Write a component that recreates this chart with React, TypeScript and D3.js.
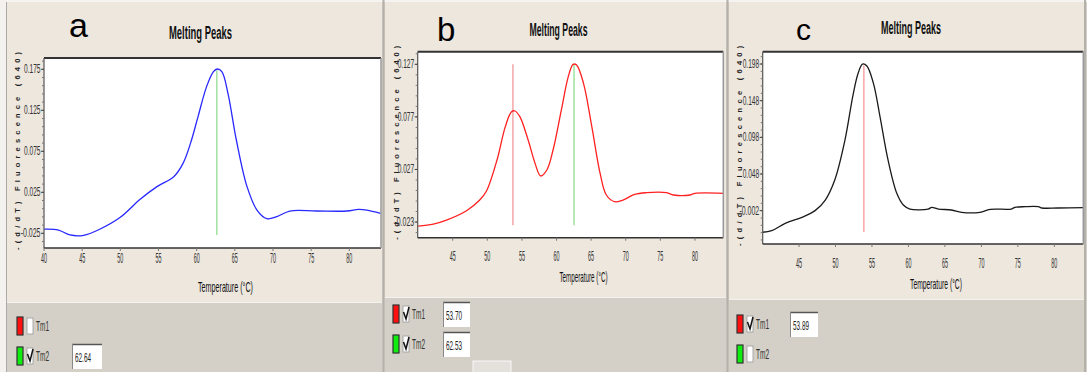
import React, { useEffect } from 'react';
import * as d3 from 'd3';

// ---------- data ----------
const PANEL_LETTERS = ['a', 'b', 'c'];
const TITLE = 'Melting Peaks';
const X_TITLE = 'Temperature (°C)';
const Y_TITLE = '-(d/dT) Fluorescence (640)';

const TEMP_A = [40, 41.9, 43.4, 45.2, 47.3, 50, 52.6, 54.8, 57, 58.2, 59.2, 60.2, 61.3, 62.2, 62.7, 63.3, 64.1, 65.2, 66.6, 67.9, 69.2, 70.5, 72.2, 75.7, 79.7, 81.2, 82.3, 84.1];
const DERIV_A = [-0.020, -0.021, -0.027, -0.0274, -0.020, -0.0055, 0.0165, 0.0319, 0.0441, 0.060, 0.085, 0.118, 0.1539, 0.1722, 0.1754, 0.1722, 0.1457, 0.0888, 0.0319, 0.0034, -0.0071, -0.0047, 0.0022, 0.0022, 0.0022, 0.0043, 0.0034, -0.0006];

const TEMP_B = [40, 42.2, 44.1, 47, 48.9, 49.9, 51.4, 52.6, 53.5, 54, 54.7, 55.9, 56.9, 57.7, 58.6, 59.5, 60.7, 61.7, 62.4, 62.9, 63.9, 65.1, 66.3, 67.2, 68.4, 69.6, 71.3, 73, 75.9, 76.9, 79.3, 80, 84.1];
const DERIV_B = [-0.0268, -0.0249, -0.0211, -0.0122, -0.0021, 0.0068, 0.036, 0.0677, 0.082, 0.0826, 0.0772, 0.055, 0.0328, 0.0208, 0.0265, 0.0455, 0.0836, 0.1153, 0.127, 0.1264, 0.1089, 0.0677, 0.0233, 0.0027, -0.0037, -0.0021, 0.0033, 0.0049, 0.0049, 0.0027, 0.0027, 0.0043, 0.0043];

const TEMP_C = [40.02, 41.25, 43.1, 45.4, 47.2, 48.6, 49.9, 51.3, 52.4, 53.1, 53.7, 54.3, 55.2, 56.1, 57.2, 58.4, 59.3, 60.2, 62.7, 63.2, 64.1, 65.9, 67.3, 69.8, 71.2, 74.1, 74.6, 76, 77.8, 78.3, 80.5, 84];
const DERIV_C = [-0.0315, -0.0293, -0.0193, -0.0111, -0.002, 0.0125, 0.0398, 0.0944, 0.1557, 0.1853, 0.198, 0.1953, 0.1716, 0.1262, 0.0671, 0.0216, 0.0057, 0.0002, 0.0002, 0.0025, 0.0002, -0.0011, -0.0043, -0.0043, -0.0002, 0.0002, 0.0025, 0.0034, 0.0034, 0.0016, 0.0016, 0.002];

const X_TICKS_A = [40, 45, 50, 55, 60, 65, 70, 75, 80];
const X_TICKS_BC = [45, 50, 55, 60, 65, 70, 75, 80];
const Y_TICKS_A = [-0.025, 0.025, 0.075, 0.125, 0.175];
const Y_LABELS_A = ['-0.025', '0.025', '0.075', '0.125', '0.175'];
const Y_TICKS_B = [-0.023, 0.027, 0.077, 0.127];
const Y_LABELS_B = ['-0.023', '0.027', '0.077', '0.127'];
const Y_TICKS_C = [-0.002, 0.048, 0.098, 0.148, 0.198];
const Y_LABELS_C = ['-0.002', '0.048', '0.098', '0.148', '0.198'];

// Tm marker lines: temperature, top value, bottom value
const TM_LINES_A = [{ key: 'Tm2', temp: 62.64, top: 0.174, bottom: -0.027 }];
const TM_LINES_B = [
  { key: 'Tm1', temp: 53.7, top: 0.127, bottom: -0.026 },
  { key: 'Tm2', temp: 62.53, top: 0.127, bottom: -0.026 },
];
const TM_LINES_C = [{ key: 'Tm1', temp: 53.89, top: 0.196, bottom: -0.031 }];

const TM_NAMES = ['Tm1', 'Tm2'];
const TM_CHECKED_A = [false, true];
const TM_CHECKED_B = [true, true];
const TM_CHECKED_C = [true, false];
const TM_VALUES_A = ['', '62.64'];
const TM_VALUES_B = ['53.70', '62.53'];
const TM_VALUES_C = ['53.89', ''];

// ---------- styles / layout ----------
const TAN = '#ede7de';
const GRAY = '#d4d0c8';
const TM_COLORS: Record<string, string> = { Tm1: '#f4a0a0', Tm2: '#98e098' };
const SWATCH: Record<string, string> = { Tm1: '#ff1010', Tm2: '#10ee10' };
const NARROW = '"Liberation Sans Narrow", "Liberation Sans", Arial, sans-serif';
const SANS = '"Liberation Sans", Arial, sans-serif';

const PANELS = [
  {
    bg: [7, 2, 375, 300], legendTop: 302,
    plot: { x0: 44, x1: 381, y0: 58, y1: 248 },
    xDom: [40, 84.15], yDom: [-0.0429, 0.1888],
    temps: TEMP_A, vals: DERIV_A, color: '#2828ff',
    xTicks: X_TICKS_A, yTicks: Y_TICKS_A, yLabels: Y_LABELS_A, tm: TM_LINES_A,
    letter: { x: 69, y: 37, size: 34 }, titleY: 33, titleW: 63,
    xTickY: 257, xTitleY: 286, xTitleW: 55, yTitleX: 17,
    legend: { x: 17, rows: [326, 356], checked: TM_CHECKED_A, values: TM_VALUES_A, boxX: 72, boxW: 30 },
  },
  {
    bg: [385, 2, 341, 295], legendTop: 297,
    plot: { x0: 417.7, x1: 723.3, y0: 51.7, y1: 237.7 },
    xDom: [39.94, 84.1], yDom: [-0.0379, 0.139],
    temps: TEMP_B, vals: DERIV_B, color: '#ff2020',
    xTicks: X_TICKS_BC, yTicks: Y_TICKS_B, yLabels: Y_LABELS_B, tm: TM_LINES_B,
    letter: { x: 437, y: 41, size: 33 }, titleY: 30, titleW: 58,
    xTickY: 255, xTitleY: 276, xTitleW: 48, yTitleX: 396,
    legend: { x: 393, rows: [314, 344], checked: TM_CHECKED_B, values: TM_VALUES_B, boxX: 443, boxW: 27 },
  },
  {
    bg: [729, 2, 355, 297], legendTop: 299,
    plot: { x0: 762.7, x1: 1083.3, y0: 51.7, y1: 244 },
    xDom: [40.02, 83.97], yDom: [-0.0475, 0.2148],
    temps: TEMP_C, vals: DERIV_C, color: '#1a1a1a',
    xTicks: X_TICKS_BC, yTicks: Y_TICKS_C, yLabels: Y_LABELS_C, tm: TM_LINES_C,
    letter: { x: 796, y: 40, size: 30 }, titleY: 28, titleW: 60,
    xTickY: 262, xTitleY: 283, xTitleW: 52, yTitleX: 739,
    legend: { x: 737, rows: [324, 354], checked: TM_CHECKED_C, values: TM_VALUES_C, boxX: 790, boxW: 28 },
  },
];

function Panel({ p, idx }: { p: any; idx: number }) {
  const { plot } = p;
  const x = d3.scaleLinear().domain(p.xDom).range([plot.x0, plot.x1]);
  const y = d3.scaleLinear().domain(p.yDom).range([plot.y1, plot.y0]);
  const pts: [number, number][] = p.temps.map((t: number, i: number) => [t, p.vals[i]]);
  const line = d3.line<[number, number]>().x(d => x(d[0])).y(d => y(d[1])).curve(d3.curveCatmullRom.alpha(0.5));

  const step = p.yTicks[1] - p.yTicks[0];
  const minor: number[] = [];
  for (let v = p.yTicks[0] - step; v <= p.yDom[1]; v += step / 5) {
    if (v >= p.yDom[0] && v <= p.yDom[1]) minor.push(v);
  }
  const cx = (plot.x0 + plot.x1) / 2;
  const [bx, by, bw, bh] = p.bg;
  const lg = p.legend;

  return (
    <g>
      <rect x={bx} y={by} width={bw} height={bh} fill={TAN} />
      <line x1={bx} x2={bx + bw} y1={p.legendTop + 0.5} y2={p.legendTop + 0.5} stroke="#f4f2ee" />
      <text x={p.letter.x} y={p.letter.y} fontFamily={SANS} fontSize={p.letter.size} fill="#000">{PANEL_LETTERS[idx]}</text>
      <text x={cx - 12} y={p.titleY} fontFamily={NARROW} fontWeight="bold" fontSize={18} textAnchor="middle"
        dominantBaseline="central" textLength={p.titleW} lengthAdjust="spacingAndGlyphs" fill="#111">{TITLE}</text>
      <rect x={plot.x0} y={plot.y0} width={plot.x1 - plot.x0} height={plot.y1 - plot.y0} fill="#fff" />
      {/* Tm lines */}
      {p.tm.map((m: any) => (
        <line key={m.key} x1={x(m.temp)} x2={x(m.temp)} y1={y(m.top)} y2={y(m.bottom)} stroke={TM_COLORS[m.key]} strokeWidth={1.4} />
      ))}
      <path d={line(pts) || ''} fill="none" stroke={p.color} strokeWidth={1.3} />
      {/* frame */}
      <line x1={plot.x0} x2={plot.x1} y1={plot.y0} y2={plot.y0} stroke="#333" strokeWidth={2} />
      <line x1={plot.x0} x2={plot.x0} y1={plot.y0} y2={plot.y1} stroke="#555" strokeWidth={1.2} />
      <line x1={plot.x0} x2={plot.x1} y1={plot.y1} y2={plot.y1} stroke="#333" strokeWidth={1.5} />
      <line x1={plot.x1} x2={plot.x1} y1={plot.y0} y2={plot.y1} stroke="#999" strokeWidth={1.5} />
      {/* y minor ticks */}
      {minor.map((v, i) => (
        <line key={'m' + i} x1={plot.x0 - 2} x2={plot.x0} y1={y(v)} y2={y(v)} stroke="#777" />
      ))}
      {/* y ticks */}
      {p.yTicks.map((v: number, i: number) => (
        <g key={'y' + i}>
          <line x1={plot.x0 - 3} x2={plot.x0} y1={y(v)} y2={y(v)} stroke="#444" />
          <text x={plot.x0 - 3.5} y={y(v)} fontFamily={NARROW} fontSize={12} textAnchor="end" dominantBaseline="central"
            textLength={p.yLabels[i].length * 3.3} lengthAdjust="spacingAndGlyphs" fill="#333">{p.yLabels[i]}</text>
        </g>
      ))}
      {/* x ticks */}
      {p.xTicks.map((t: number) => (
        <g key={'x' + t}>
          <line x1={x(t)} x2={x(t)} y1={plot.y1} y2={plot.y1 + 3} stroke="#777" />
          <text x={x(t)} y={p.xTickY} fontFamily={NARROW} fontSize={15} textAnchor="middle" dominantBaseline="central"
            textLength={6} lengthAdjust="spacingAndGlyphs" fill="#333">{t}</text>
        </g>
      ))}
      <text x={cx + 13} y={p.xTitleY} fontFamily={NARROW} fontSize={15} textAnchor="middle" dominantBaseline="central"
        textLength={p.xTitleW} lengthAdjust="spacingAndGlyphs" fill="#111">{X_TITLE}</text>
      <text transform={`translate(${p.yTitleX},${(plot.y0 + plot.y1) / 2 - 2}) rotate(-90)`} fontFamily={SANS} fontWeight="bold"
        fontSize={7.5} textAnchor="middle" dominantBaseline="central" textLength={plot.y1 - plot.y0 + 8} lengthAdjust="spacing" fill="#222">{Y_TITLE}</text>
      {/* legend */}
      {TM_NAMES.map((name, i) => {
        const cy = lg.rows[i];
        return (
          <g key={name}>
            <rect x={lg.x} y={cy - 9} width={6} height={18} fill={SWATCH[name]} stroke="#333" strokeWidth={1.2} />
            <rect x={lg.x + 10} y={cy - 8} width={6} height={16} fill="#fff" stroke="#999" strokeWidth={0.8} />
            {lg.checked[i] && (
              <path d={`M${lg.x + 10.5},${cy - 2} L${lg.x + 13},${cy + 5} L${lg.x + 16},${cy - 7}`} fill="none" stroke="#111" strokeWidth={1.5} />
            )}
            <text x={lg.x + 19} y={cy} fontFamily={NARROW} fontSize={14} dominantBaseline="central"
              textLength={13} lengthAdjust="spacingAndGlyphs" fill="#333">{name}</text>
            {lg.values[i] && (
              <g>
                <rect x={lg.boxX} y={cy - 12} width={lg.boxW} height={25} fill="#fff" />
                <line x1={lg.boxX} x2={lg.boxX + lg.boxW} y1={cy - 11.5} y2={cy - 11.5} stroke="#555" strokeWidth={1.5} />
                <line x1={lg.boxX + 0.5} x2={lg.boxX + 0.5} y1={cy - 12} y2={cy + 13} stroke="#888" />
                <text x={lg.boxX + 3} y={cy + 1} fontFamily={NARROW} fontSize={13} dominantBaseline="central"
                  textLength={lg.values[i].length * 3.2} lengthAdjust="spacingAndGlyphs" fill="#222">{lg.values[i]}</text>
              </g>
            )}
          </g>
        );
      })}
    </g>
  );
}

export default function App() {
  useEffect(() => {
    document.body.style.margin = '0';
  }, []);
  return (
    <svg width={1087} height={372} style={{ position: 'absolute', left: 0, top: 0, display: 'block' }}>
      <rect x={0} y={0} width={1087} height={372} fill={GRAY} />
      <rect x={0} y={0} width={1087} height={2} fill="#f6f4f0" />
      <rect x={0} y={0} width={6} height={372} fill="#f4f2ee" />
      <line x1={6.5} x2={6.5} y1={2} y2={372} stroke="#aaa" />
      <line x1={383.5} x2={383.5} y1={0} y2={372} stroke="#b4b0aa" strokeWidth={2} />
      <line x1={727.5} x2={727.5} y1={0} y2={372} stroke="#b4b0aa" strokeWidth={2} />
      <line x1={1085} x2={1085} y1={0} y2={372} stroke="#b4b0aa" strokeWidth={2} />
      {/* small button edge in panel b */}
      <rect x={473} y={361} width={38} height={12} fill="#e4e1dc" stroke="#f8f8f8" />
      {PANELS.map((p, i) => <Panel key={i} p={p} idx={i} />)}
    </svg>
  );
}
